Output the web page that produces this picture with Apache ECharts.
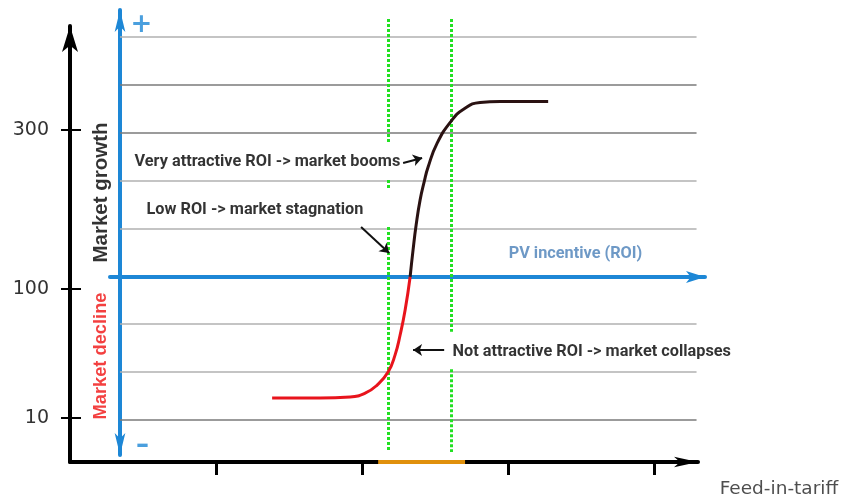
<!DOCTYPE html>
<html><head><meta charset="utf-8">
<script src="https://cdn.jsdelivr.net/npm/echarts@6/dist/echarts.min.js"></script>
<style>html,body{margin:0;padding:0;background:#fff}#c{width:841px;height:502px}</style>
</head><body><div id="c"></div>
<script>
// ---- data (schematic units: x = feed-in tariff level, y = market growth level) ----
const redX   = [1.384, 1.712, 1.918, 2.021, 2.103, 2.178, 2.226, 2.260, 2.295, 2.329];
const redY   = [0.459, 0.459, 0.480, 0.560, 0.730, 1.000, 1.360, 1.770, 2.300, 2.990];
const blackX = [2.329, 2.349, 2.370, 2.397, 2.425, 2.452, 2.514, 2.610, 2.692, 2.808, 2.945, 3.274];
const blackY = [2.990, 3.550, 4.070, 4.590, 4.970, 5.280, 5.780, 6.240, 6.480, 6.630, 6.650, 6.650];
const yTickValues = [0.04, 2.73, 6.05];
const yTickLabels = ['10', '100', '300'];
const xTickValues = [1, 2, 3, 4];
const gridLevels = [0, 1, 2, 4, 5, 6, 7, 8];
const darkLevels = [0, 6, 7];
const bandX = [2.178, 2.61];
const leftBandSegments = [[8.37, 5.78], [5.01, 4.80], [4.03, -0.67]];
const rightBandSegments = [[8.37, 1.84], [1.06, -0.67]];
const tariffBand = [2.11, 2.705];
const noteTexts = ['Very attractive ROI -> market booms', 'Low ROI -> market stagnation', 'Not attractive ROI -> market collapses', 'PV incentive (ROI)'];
const sideTexts = ['Market growth', 'Market decline'];
const axisTitleX = 'Feed-in-tariff';

// ---- layout / style config ----
const Y_MIN = -0.877, Y_MAX = 8.225, X_MAX = 4.3;
const BLUE = '#1d87d6';
const noteFont = "Roboto, 'Liberation Sans', sans-serif";
const notePos = [[0.445, 5.386], [0.527, 4.384], [2.623, 1.42], [3.007, 3.466]];
const noteColors = ['#000', '#000', '#000', '#4a7fb8'];
const sidePos = [[0.215, 4.739], [0.215, 1.326]];
const sideColors = ['#000', '#f01010'];
const sideSizes = [20.5, 18.3];
const arrows = [
  [[2.281, 5.365], [2.411, 5.47]],
  [[1.993, 4.029], [2.185, 3.486]],
  [[2.562, 1.461], [2.349, 1.461]]
];
const gridX = [0.342, 4.29];

const chart = echarts.init(document.getElementById('c'), null, { renderer: 'canvas' });

const series = [];
series.push({
  type: 'lines', coordinateSystem: 'cartesian2d', silent: true, z: 1,
  data: gridLevels.map(l => ({
    coords: [[gridX[0], l], [gridX[1], l]],
    lineStyle: { color: darkLevels.includes(l) ? '#7a7a7a' : '#b0b0b0', width: 1.5 }
  })),
  lineStyle: { width: 1.5, opacity: 1 }
});
const greenData = [];
leftBandSegments.forEach(s => greenData.push({ coords: [[bandX[0], s[0]], [bandX[0], s[1]]] }));
rightBandSegments.forEach(s => greenData.push({ coords: [[bandX[1], s[0]], [bandX[1], s[1]]] }));
series.push({
  type: 'lines', coordinateSystem: 'cartesian2d', silent: true, z: 3, clip: false,
  data: greenData,
  lineStyle: { color: '#22e022', width: 3, type: [3, 2], opacity: 1 }
});
series.push({
  type: 'lines', coordinateSystem: 'cartesian2d', silent: true, z: 6, clip: false,
  data: [{ coords: [[tariffBand[0], Y_MIN], [tariffBand[1], Y_MIN]] }],
  lineStyle: { color: '#e0900c', width: 4, opacity: 1 }
});
series.push({
  type: 'lines', coordinateSystem: 'cartesian2d', silent: true, z: 5, clip: false,
  symbol: ['none', 'arrow'], symbolSize: 9,
  data: arrows.map(a => ({ coords: a })),
  lineStyle: { color: '#111', width: 2, opacity: 1 }
});
series.push({
  type: 'line', smooth: 0.5, symbol: 'none', z: 7, clip: false,
  data: redX.map((x, i) => [x, redY[i]]),
  lineStyle: { color: '#e8141c', width: 3 }
});
series.push({
  type: 'line', smooth: 0.5, symbol: 'none', z: 7, clip: false,
  data: blackX.map((x, i) => [x, blackY[i]]),
  lineStyle: { color: '#2a1212', width: 3 }
});
const textSeries = (data) => ({
  type: 'scatter', silent: true, clip: false, z: 8, symbolSize: 1,
  itemStyle: { color: 'rgba(0,0,0,0)' }, data
});
series.push(textSeries(noteTexts.map((t, i) => ({
  value: notePos[i],
  label: {
    show: true, formatter: t, position: [0, 0], align: 'left', verticalAlign: 'middle',
    fontFamily: noteFont, fontWeight: 'bold', fontSize: 16.3, color: noteColors[i]
  }
}))));
series.push(textSeries(sideTexts.map((t, i) => ({
  value: sidePos[i],
  label: {
    show: true, formatter: t, position: [0, 0], align: 'center', verticalAlign: 'middle', rotate: 90,
    fontFamily: "'Liberation Sans', Arial, sans-serif", fontWeight: 'bold', fontSize: sideSizes[i], color: sideColors[i]
  }
}))));
series.push(textSeries([
  { value: [0.493, 8.24], label: { show: true, formatter: '+', position: [0, 0], align: 'center', verticalAlign: 'middle', fontSize: 26, fontWeight: 'bold', color: BLUE, fontFamily: 'DejaVu Sans' } },
  { value: [0.50, -0.56], label: { show: true, formatter: '\u2013', position: [0, 0], align: 'center', verticalAlign: 'middle', fontSize: 26, fontWeight: 'bold', color: BLUE, fontFamily: 'DejaVu Sans' } },
  { value: [4.452, -1.46], label: { show: true, formatter: axisTitleX, position: [0, 0], align: 'left', verticalAlign: 'middle', fontSize: 18.5, color: '#222', fontFamily: 'DejaVu Sans' } }
]));

const hiddenAxis = (gi) => ({ type: 'value', gridIndex: gi, show: false, min: 0, max: 1 });
const yBase = { type: 'value', min: Y_MIN, max: Y_MAX, position: 'left', splitLine: { show: false } };

chart.setOption({
  animation: false,
  backgroundColor: '#fff',
  grid: [
    { left: 70, right: 143, top: 26, bottom: 40 },      // main chart
    { left: 120, right: 136, top: 10, bottom: 47 },     // blue growth axis
    { left: 110, right: 136, top: 100, bottom: 225 }    // blue incentive axis
  ],
  xAxis: [
    {
      type: 'value', min: 0, max: X_MAX, gridIndex: 0,
      axisLine: { show: true, onZero: false, lineStyle: { color: '#000', width: 4 }, symbol: ['none', 'arrow'], symbolSize: [8, 24] },
      axisTick: { show: true, customValues: xTickValues, length: 13, lineStyle: { color: '#000', width: 3 } },
      axisLabel: { show: false },
      splitLine: { show: false }
    },
    hiddenAxis(1),
    {
      type: 'value', gridIndex: 2, min: 0, max: 1, position: 'bottom',
      axisLine: { show: true, onZero: false, lineStyle: { color: BLUE, width: 4 }, symbol: ['none', 'arrow'], symbolSize: [9, 19] },
      axisTick: { show: false }, axisLabel: { show: false }, splitLine: { show: false }
    }
  ],
  yAxis: [
    Object.assign({}, yBase, {
      gridIndex: 0,
      axisLine: { show: true, onZero: false, lineStyle: { color: '#000', width: 4 }, symbol: ['none', 'arrow'], symbolSize: [12, 26] },
      axisTick: { show: true, customValues: yTickValues, length: 9, lineStyle: { color: '#000', width: 2 } },
      axisLabel: {
        show: true, customValues: yTickValues, margin: 21,
        formatter: v => yTickLabels[yTickValues.indexOf(v)],
        fontFamily: 'DejaVu Sans', fontSize: 19, color: '#333'
      }
    }),
    Object.assign({}, yBase, {
      gridIndex: 0,
      axisLine: { show: false },
      axisTick: { show: true, inside: true, customValues: yTickValues, length: 11, lineStyle: { color: '#000', width: 2 } },
      axisLabel: { show: false }
    }),
    {
      type: 'value', gridIndex: 1, min: 0, max: 1, position: 'left',
      axisLine: { show: true, onZero: false, lineStyle: { color: BLUE, width: 4 }, symbol: ['arrow', 'arrow'], symbolSize: [8, 22] },
      axisTick: { show: false }, axisLabel: { show: false }, splitLine: { show: false }
    },
    hiddenAxis(2)
  ],
  series: series
});
</script></body></html>
